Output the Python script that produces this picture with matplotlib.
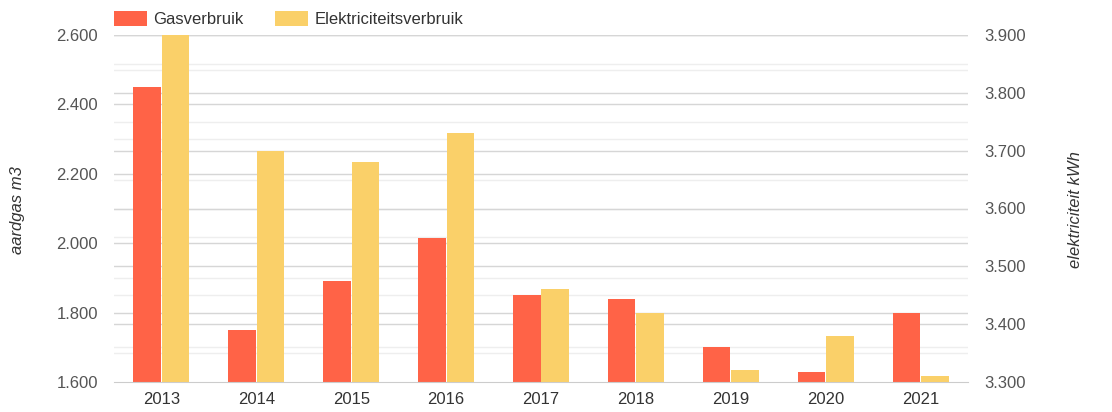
import numpy as np
import matplotlib
matplotlib.use("Agg")
import matplotlib.pyplot as plt
from matplotlib.ticker import FuncFormatter
from matplotlib.transforms import blended_transform_factory

plt.rcParams["font.family"] = ["Liberation Sans", "DejaVu Sans"]

years = ["2013", "2014", "2015", "2016", "2017", "2018", "2019", "2020", "2021"]
gas = [2450, 1750, 1890, 2015, 1850, 1840, 1700, 1630, 1800]
elek = [3900, 3700, 3680, 3730, 3460, 3420, 3320, 3380, 3310]

gas_color = "#FF6347"
elek_color = "#FAD069"
text_color = "#555555"

fig = plt.figure(figsize=(11.12, 4.12), dpi=100)
ax = fig.add_axes([114 / 1112, 30 / 412, (968 - 114) / 1112, (382 - 35) / 412])
ax2 = ax.twinx()

x = np.arange(len(years))
w = 0.29
ax.bar(x - w / 2 - 0.005, gas, width=w, color=gas_color, zorder=2, label="Gasverbruik")
ax2.bar(x + w / 2 + 0.005, elek, width=w, color=elek_color, zorder=2, label="Elektriciteitsverbruik")

ax.set_xlim(-0.5, len(years) - 0.5)
ax.set_ylim(1600, 2600)
ax2.set_ylim(3300, 3900)
ax.set_yticks(np.arange(1600, 2601, 200))
ax2.set_yticks(np.arange(3300, 3901, 100))

fmt = FuncFormatter(lambda v, p: f"{int(v):,}".replace(",", "."))
ax.yaxis.set_major_formatter(fmt)
ax2.yaxis.set_major_formatter(fmt)
ax.set_xticks(x)
ax.set_xticklabels(years)

# gridlines: left axis (major 200, minor 100), right axis (major 100, minor 50)
tr_left = blended_transform_factory(ax.transAxes, ax.transData)
tr_right = blended_transform_factory(ax.transAxes, ax2.transData)
for v in np.arange(1700, 2600, 200):
    ax.plot([0, 1], [v, v], transform=tr_left, color="#eeeeee", lw=1, zorder=0.5)
for v in np.arange(3350, 3900, 100):
    ax.plot([0, 1], [v, v], transform=tr_right, color="#eeeeee", lw=1, zorder=0.6)
for v in np.arange(1800, 2601, 200):
    ax.plot([0, 1], [v, v], transform=tr_left, color="#d6d6d6", lw=1, zorder=0.7)
for v in np.arange(3400, 3901, 100):
    ax.plot([0, 1], [v, v], transform=tr_right, color="#d6d6d6", lw=1, zorder=0.7)

for a in (ax, ax2):
    for s in a.spines.values():
        s.set_visible(False)
    a.tick_params(length=0, labelsize=12, labelcolor=text_color)
ax.spines["bottom"].set_visible(True)
ax.spines["bottom"].set_color("#cccccc")
ax.tick_params(axis="y", pad=11.5)
ax2.tick_params(axis="y", pad=12)
ax.tick_params(axis="x", pad=7, labelcolor="#333333")

fig.text(18 / 1112, 1 - 210 / 412, "aardgas m3", rotation=90, ha="center", va="center",
         fontsize=12, style="italic", color="#333333")
fig.text(1076 / 1112, 1 - 210 / 412, "elektriciteit kWh", rotation=90, ha="center", va="center",
         fontsize=12, style="italic", color="#333333")

h1, l1 = ax.get_legend_handles_labels()
h2, l2 = ax2.get_legend_handles_labels()
leg = fig.legend(h1 + h2, l1 + l2, loc="upper left", bbox_to_anchor=(114 / 1112, 1 - 11 / 412),
                 ncol=2, frameon=False, fontsize=12, handlelength=2.0, handleheight=1.0,
                 handletextpad=0.35, columnspacing=1.9, borderaxespad=0, borderpad=0)
for t in leg.get_texts():
    t.set_color("#333333")

fig.savefig("out.png", dpi=100)
